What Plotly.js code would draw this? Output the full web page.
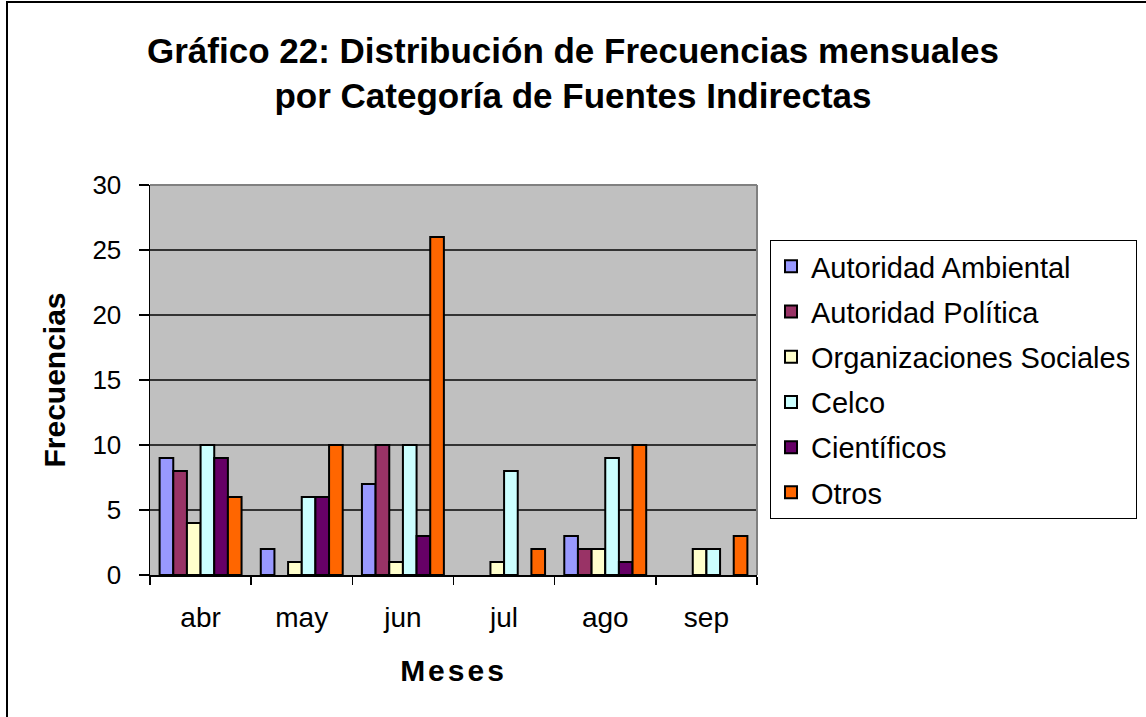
<!DOCTYPE html>
<html>
<head>
<meta charset="utf-8">
<script src="https://cdn.plot.ly/plotly-3.0.1.min.js"></script>
<style>
  html, body { margin: 0; padding: 0; background: #fff; }
  #chart { width: 1146px; height: 717px; }
</style>
</head>
<body>
<div id="chart"></div>
<script>
const meses = ["abr", "may", "jun", "jul", "ago", "sep"];
const autoridadAmbiental = [9, 2, 7, 0, 3, 0];
const autoridadPolitica = [8, 0, 10, 0, 2, 0];
const organizacionesSociales = [4, 1, 1, 1, 2, 2];
const celco = [10, 6, 10, 8, 9, 2];
const cientificos = [9, 6, 3, 0, 1, 0];
const otros = [6, 10, 26, 2, 10, 3];
const seriesNames = ["Autoridad Ambiental", "Autoridad Política", "Organizaciones Sociales", "Celco", "Científicos", "Otros"];
const seriesValues = [autoridadAmbiental, autoridadPolitica, organizacionesSociales, celco, cientificos, otros];
const seriesColors = ["#9999FF", "#993366", "#FFFFCC", "#CCFFFF", "#660066", "#FF6600"];

const FONT = "Liberation Sans, Arial, sans-serif";

const traces = seriesNames.map((name, i) => ({
  type: "bar",
  name: name,
  x: meses,
  y: seriesValues[i],
  legendgroup: "g" + i,
  marker: {
    color: seriesColors[i],
    line: { color: "#000", width: seriesValues[i].map(v => (v === 0 ? 0 : 2)) }
  },
  hoverinfo: "x+y+name"
}));

const L = 150, R = 757, T = 185, B = 575;
const W = 1146, H = 717;
const px = v => (v - L) / (R - L);
const py = v => (B - v) / (B - T);

const layout = {
  width: W, height: H,
  margin: { l: L, r: W - R, t: T, b: H - B, autoexpand: false },
  paper_bgcolor: "#ffffff",
  plot_bgcolor: "#C0C0C0",
  font: { family: FONT, color: "#000" },
  title: {
    text: "<b>Gráfico 22: Distribución de Frecuencias mensuales<br>por Categoría de Fuentes Indirectas</b>",
    font: { family: FONT, size: 35, color: "#000" },
    x: 0.5, xanchor: "center", xref: "container",
    y: 1 - 62.5 / H, yanchor: "middle", yref: "container"
  },
  barmode: "group",
  bargap: 0.19,
  bargroupgap: 0,
  xaxis: {
    type: "category",
    tickson: "boundaries",
    ticks: "outside", ticklen: 8, tickwidth: 1.5, tickcolor: "#000",
    showline: true, linecolor: "#000", linewidth: 1.5,
    showgrid: false, zeroline: false,
    tickfont: { family: FONT, size: 28, color: "#000" },
    ticklabelstandoff: 17,
    title: { text: "<b>Meses</b>", font: { family: FONT, size: 30, color: "#000" }, standoff: 28 },
    fixedrange: true
  },
  yaxis: {
    range: [0, 30], dtick: 5, tick0: 0,
    ticks: "outside", ticklen: 10, tickwidth: 1.5, tickcolor: "#000",
    showline: true, linecolor: "#000", linewidth: 1.5,
    showgrid: true, gridcolor: "#333333", gridwidth: 1.2,
    zeroline: false,
    tickfont: { family: FONT, size: 26, color: "#000" },
    ticklabelstandoff: 12,
    title: { text: "<b>Frecuencias</b>", font: { family: FONT, size: 30, color: "#000" }, standoff: 18 },
    fixedrange: true
  },
  legend: {
    x: px(770), y: py(240), xanchor: "left", yanchor: "top",
    xref: "paper", yref: "paper",
    bgcolor: "#ffffff", bordercolor: "#000", borderwidth: 1,
    font: { family: FONT, size: 29, color: "#000" },
    tracegroupgap: 4.5,
    traceorder: "grouped"
  },
  shapes: [
    { type: "line", xref: "paper", yref: "paper", x0: 0, x1: 1, y0: 1, y1: 1, line: { color: "#808080", width: 2 }, layer: "above" },
    { type: "line", xref: "paper", yref: "paper", x0: 1, x1: 1, y0: 0, y1: 1, line: { color: "#808080", width: 2 }, layer: "above" },
    { type: "rect", xref: "paper", yref: "paper", x0: px(7), x1: px(1160), y0: py(2), y1: py(730), line: { color: "#000", width: 2 }, fillcolor: "rgba(0,0,0,0)", layer: "above" }
  ],
  showlegend: true
};

Plotly.newPlot("chart", traces, layout, { displayModeBar: false, staticPlot: true }).then(() => {
  const xt = document.querySelector(".g-xtitle text");
  if (xt) xt.style.letterSpacing = "3px";
});
</script>
</body>
</html>
